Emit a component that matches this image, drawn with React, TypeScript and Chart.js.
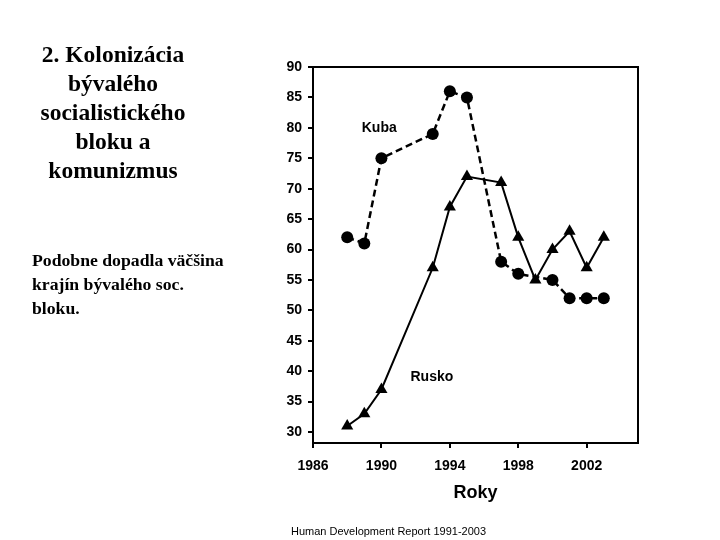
import React, { useEffect, useRef } from "react";
import { Chart, registerables } from "chart.js";

Chart.register(...registerables);

const kubaYears = [1988, 1989, 1990, 1993, 1994, 1995, 1997, 1998, 2000, 2001, 2002, 2003];
const kuba = [62, 61, 75, 79, 86, 85, 58, 56, 55, 52, 52, 52];
const ruskoYears = [1988, 1989, 1990, 1993, 1994, 1995, 1997, 1998, 1999, 2000, 2001, 2002, 2003];
const rusko = [31, 33, 37, 57, 67, 72, 71, 62, 55, 60, 63, 57, 62];
const xTicks = [1986, 1990, 1994, 1998, 2002];
const yTicks = [30, 35, 40, 45, 50, 55, 60, 65, 70, 75, 80, 85, 90];
const seriesNames = ["Kuba", "Rusko"];
const labelAnchors = [
  { x: 1988.85, y: 80 },
  { x: 1991.7, y: 39 },
];

const FONT = "'Liberation Sans', Arial, sans-serif";

const boxPlugin = {
  id: "boxAndLabels",
  afterDraw(chart: any) {
    const { ctx, chartArea, scales } = chart;
    ctx.save();
    ctx.strokeStyle = "#000";
    ctx.lineWidth = 2;
    ctx.strokeRect(chartArea.left, chartArea.top, chartArea.right - chartArea.left, chartArea.bottom - chartArea.top);
    ctx.fillStyle = "#000";
    ctx.font = `bold 14px ${FONT}`;
    ctx.textAlign = "left";
    ctx.textBaseline = "middle";
    seriesNames.forEach((n, i) => {
      const a = labelAnchors[i];
      ctx.fillText(n, scales.x.getPixelForValue(a.x), scales.y.getPixelForValue(a.y));
    });
    ctx.restore();
  },
};

export default function App() {
  const ref = useRef<HTMLCanvasElement>(null);
  useEffect(() => {
    document.body.style.margin = "0";
    const chart = new Chart(ref.current!, {
      type: "line",
      data: {
        datasets: [
          {
            label: seriesNames[0],
            data: kubaYears.map((y, i) => ({ x: y, y: kuba[i] })),
            borderColor: "#000",
            backgroundColor: "#000",
            borderWidth: 2.5,
            borderDash: [7, 4],
            pointStyle: "circle",
            pointRadius: 6,
            pointBorderWidth: 0,
            tension: 0,
            order: 2,
          },
          {
            label: seriesNames[1],
            data: ruskoYears.map((y, i) => ({ x: y, y: rusko[i] })),
            borderColor: "#000",
            backgroundColor: "#000",
            borderWidth: 2,
            pointStyle: "triangle",
            pointRadius: 7,
            pointBorderWidth: 0,
            tension: 0,
            order: 1,
          },
        ],
      },
      options: {
        animation: false,
        responsive: false,
        layout: { padding: { left: 263, right: 82, top: 67, bottom: 32 } },
        plugins: { legend: { display: false }, tooltip: { enabled: false } },
        scales: {
          x: {
            type: "linear",
            min: 1986,
            max: 2005,
            afterBuildTicks: (s: any) => {
              s.ticks = xTicks.map((v) => ({ value: v }));
            },
            afterFit: (s: any) => {
              s.height = 65;
            },
            grid: { drawOnChartArea: false, drawTicks: true, tickLength: 5, color: "#000", lineWidth: 2 },
            border: { display: true, color: "#000", width: 2 },
            ticks: {
              color: "#000",
              font: { family: FONT, size: 14, weight: "bold" },
              padding: 10,
              maxRotation: 0,
              callback: (v: any) => String(v),
            },
            title: {
              display: true,
              text: "Roky",
              color: "#000",
              font: { family: FONT, size: 18, weight: "bold" },
              padding: { top: 4, bottom: 4 },
            },
          },
          y: {
            type: "linear",
            min: 28.2,
            max: 90,
            afterBuildTicks: (s: any) => {
              s.ticks = yTicks.map((v) => ({ value: v }));
            },
            afterFit: (s: any) => {
              s.width = 50;
            },
            grid: { drawOnChartArea: false, drawTicks: true, tickLength: 5, color: "#000", lineWidth: 2 },
            border: { display: true, color: "#000", width: 2 },
            ticks: {
              color: "#000",
              font: { family: FONT, size: 14, weight: "bold" },
              padding: 6,
              callback: (v: any) => String(v),
            },
          },
        },
      },
      plugins: [boxPlugin],
    });
    return () => chart.destroy();
  }, []);

  return (
    <div style={{ position: "relative", width: 720, height: 540, background: "#fff", overflow: "hidden" }}>
      <canvas ref={ref} width={720} height={540} style={{ position: "absolute", left: 0, top: 0 }} />
      <div
        style={{
          position: "absolute",
          left: 0,
          top: 40,
          width: 226,
          textAlign: "center",
          fontFamily: "'Liberation Serif', 'Times New Roman', serif",
          fontWeight: "bold",
          fontSize: 23.5,
          lineHeight: "29px",
        }}
      >
        2. Kolonizácia
        <br />
        bývalého
        <br />
        socialistického
        <br />
        bloku a
        <br />
        komunizmus
      </div>
      <div
        style={{
          position: "absolute",
          left: 32,
          top: 248,
          width: 220,
          fontFamily: "'Liberation Serif', 'Times New Roman', serif",
          fontWeight: "bold",
          fontSize: 17.7,
          lineHeight: "24px",
          whiteSpace: "nowrap",
        }}
      >
        Podobne dopadla väčšina
        <br />
        krajín bývalého soc.
        <br />
        bloku.
      </div>
      <div
        style={{
          position: "absolute",
          left: 291,
          top: 525,
          fontFamily: FONT,
          fontSize: 11,
          lineHeight: "13px",
        }}
      >
        Human Development Report 1991-2003
      </div>
    </div>
  );
}
